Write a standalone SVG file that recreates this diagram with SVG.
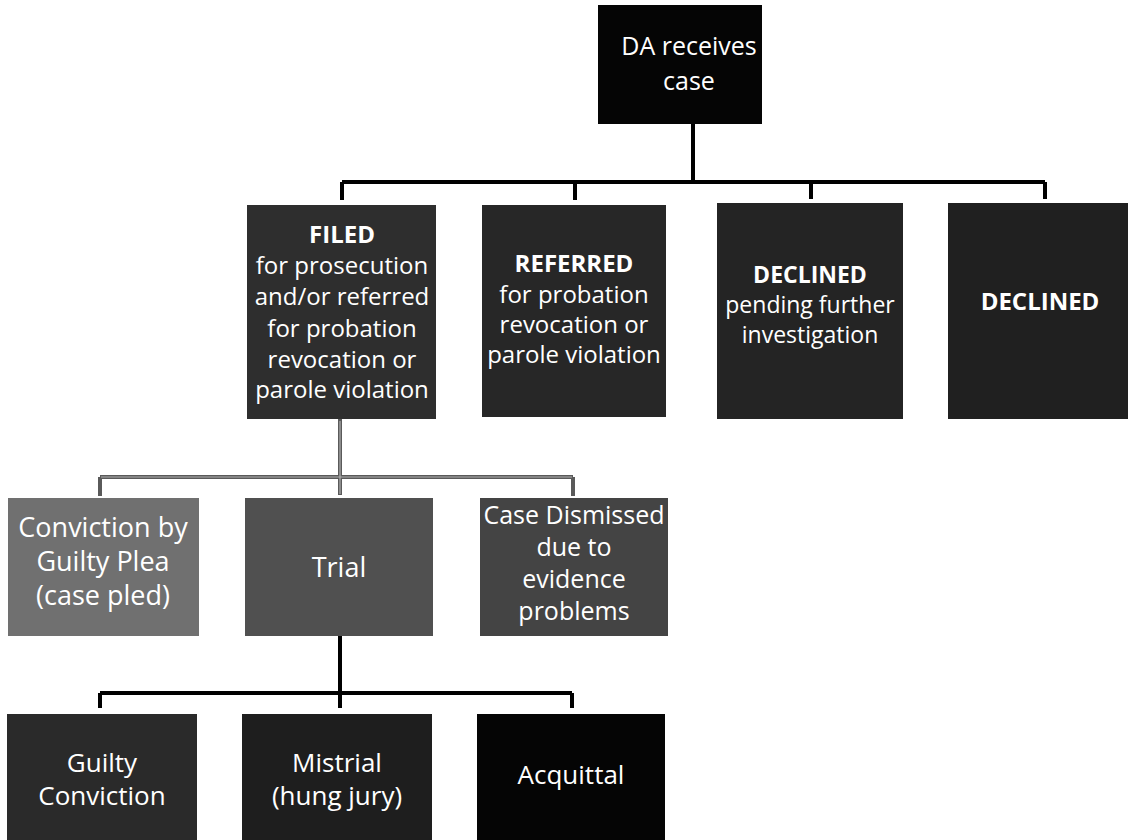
<svg xmlns="http://www.w3.org/2000/svg" width="1129" height="840" viewBox="0 0 1129 840">
<style>
.t{font-family:"Open Sans","Noto Sans","DejaVu Sans",sans-serif;fill:#fff;text-anchor:middle}
.s23{font-size:23px}
.s24{font-size:24px}
.s25{font-size:25px}
.s26{font-size:26px}
.s27{font-size:27px}
.b{font-weight:bold}
.c1{stroke:#000;stroke-width:4;fill:none}
.c2{stroke:#5a5a5a;stroke-width:4;fill:none}
.c2i{stroke:#b0b0b0;stroke-width:1.2;fill:none}
</style>
<rect width="1129" height="840" fill="#fff"/>
<g id="connectors">
<path class="c1" d="M693,124 V182 M342,182 H1045 M342,182 V200 M575,182 V200 M811,182 V199 M1045,182 V199"/>
<path class="c2" d="M340,419 V495 M100,477 H573 M100,477 V496 M573,477 V496"/>
<path class="c2i" d="M340,421 V494 M101,477 H572"/>
<path class="c1" d="M340,636 V708 M100,693 H572 M100,693 V708 M572,693 V708"/>
</g>
<g id="n-da">
<rect x="598" y="5" width="164" height="119" fill="#050505"/>
<text class="t s25" x="689" y="55">DA receives</text>
<text class="t s25" x="689" y="90">case</text>
</g>
<g id="n-filed">
<rect x="247" y="205" width="189" height="214" fill="#2e2e2e"/>
<text class="t s24 b" x="342" y="243">FILED</text>
<text class="t s24" x="342" y="274">for prosecution</text>
<text class="t s24" x="342" y="305">and/or referred</text>
<text class="t s24" x="342" y="337">for probation</text>
<text class="t s24" x="342" y="368">revocation or</text>
<text class="t s24" x="342" y="398">parole violation</text>
</g>
<g id="n-referred">
<rect x="482" y="205" width="184" height="212" fill="#272727"/>
<text class="t s24 b" x="574" y="272">REFERRED</text>
<text class="t s24" x="574" y="303">for probation</text>
<text class="t s24" x="574" y="333">revocation or</text>
<text class="t s24" x="574" y="363">parole violation</text>
</g>
<g id="n-declined-pending">
<rect x="717" y="203" width="186" height="216" fill="#242424"/>
<text class="t s23 b" x="810" y="283">DECLINED</text>
<text class="t s23" x="810" y="313">pending further</text>
<text class="t s23" x="810" y="343">investigation</text>
</g>
<g id="n-declined">
<rect x="948" y="203" width="180" height="216" fill="#202020"/>
<text class="t s24 b" x="1040" y="310">DECLINED</text>
</g>
<g id="n-plea">
<rect x="8" y="498" width="191" height="138" fill="#707070"/>
<text class="t s27" x="103" y="537">Conviction by</text>
<text class="t s27" x="103" y="571">Guilty Plea</text>
<text class="t s27" x="103" y="605">(case pled)</text>
</g>
<g id="n-trial">
<rect x="245" y="498" width="188" height="138" fill="#505050"/>
<text class="t s27" x="339" y="577">Trial</text>
</g>
<g id="n-dismissed">
<rect x="480" y="498" width="188" height="138" fill="#444"/>
<text class="t s25" x="574" y="524">Case Dismissed</text>
<text class="t s25" x="574" y="556">due to</text>
<text class="t s25" x="574" y="588">evidence</text>
<text class="t s25" x="574" y="620">problems</text>
</g>
<g id="n-guilty">
<rect x="7" y="714" width="190" height="130" fill="#2a2a2a"/>
<text class="t s26" x="102" y="772">Guilty</text>
<text class="t s26" x="102" y="805">Conviction</text>
</g>
<g id="n-mistrial">
<rect x="242" y="714" width="190" height="130" fill="#1e1e1e"/>
<text class="t s26" x="337" y="772">Mistrial</text>
<text class="t s26" x="337" y="805">(hung jury)</text>
</g>
<g id="n-acquittal">
<rect x="477" y="714" width="188" height="130" fill="#050505"/>
<text class="t s26" x="571" y="784">Acquittal</text>
</g>
</svg>
